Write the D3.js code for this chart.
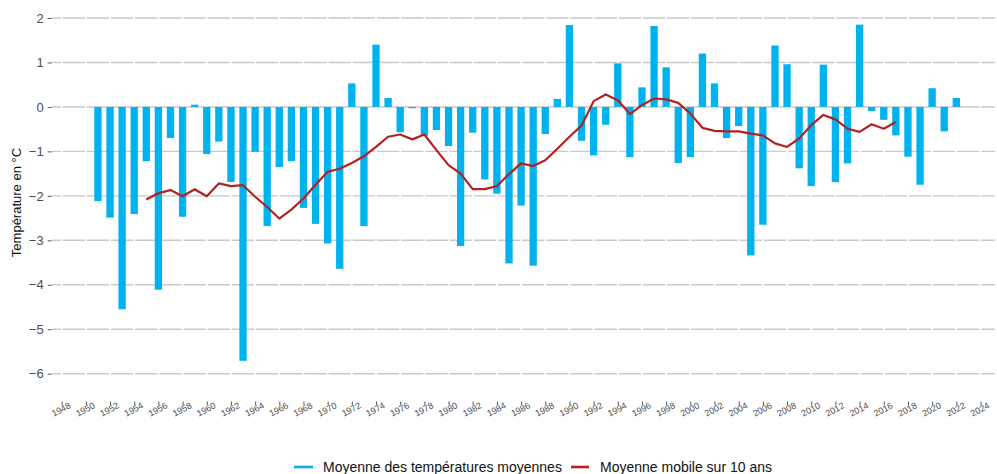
<!DOCTYPE html>
<html lang="fr">
<head>
<meta charset="utf-8">
<script src="https://cdn.jsdelivr.net/npm/d3@7"></script>
<style>
  html, body { margin: 0; padding: 0; background: #fff; }
  svg { display: block; font-family: "Liberation Sans", Arial, Helvetica, sans-serif; }
</style>
</head>
<body>
<svg id="chart" width="997" height="474"></svg>
<script>
// Years with an annual value
const years = d3.range(1951, 2023);

// Mean temperature of each year (°C)
const temperatures = [
  -2.12, -2.49, -4.55, -2.41, -1.22, -4.11, -0.70, -2.47, 0.05, -1.06,
  -0.78, -1.69, -5.71, -1.01, -2.68, -1.35, -1.22, -2.27, -2.63, -3.07,
  -3.64, 0.53, -2.68, 1.40, 0.20, -0.57, -0.03, -0.65, -0.52, -0.88,
  -3.13, -0.58, -1.63, -1.95, -3.52, -2.22, -3.57, -0.61, 0.18, 1.84,
  -0.76, -1.09, -0.40, 0.98, -1.13, 0.44, 1.82, 0.89, -1.26, -1.13,
  1.20, 0.53, -0.70, -0.43, -3.34, -2.65, 1.38, 0.96, -1.38, -1.78,
  0.95, -1.69, -1.27, 1.85, -0.09, -0.29, -0.64, -1.12, -1.75, 0.42,
  -0.55, 0.20
];

// Years covered by the 10-year moving average
const movingYears = d3.range(1955, 2018);

// 10-year moving average (°C)
const movingAverage = [
  -2.08, -1.94, -1.87, -2.01, -1.85, -2.01, -1.72, -1.78, -1.76, -2.02,
  -2.25, -2.51, -2.31, -2.06, -1.75, -1.46, -1.39, -1.26, -1.11, -0.90,
  -0.67, -0.62, -0.73, -0.62, -0.97, -1.31, -1.50, -1.85, -1.85, -1.78,
  -1.51, -1.27, -1.33, -1.20, -0.94, -0.67, -0.42, 0.13, 0.28, 0.15,
  -0.16, 0.04, 0.19, 0.17, 0.09, -0.15, -0.47, -0.54, -0.55, -0.55,
  -0.60, -0.64, -0.82, -0.90, -0.71, -0.41, -0.18, -0.28, -0.49, -0.56,
  -0.39, -0.49, -0.34
];

// Axis ticks
const xTicks = d3.range(1948, 2025, 2);
const yTicks = [-6, -5, -4, -3, -2, -1, 0, 1, 2];

// Labels
const yTitle = "Température en °C";
const legendLabels = ["Moyenne des températures moyennes", "Moyenne mobile sur 10 ans"];

const barColor = "#00b2ee";
const lineColor = "#b22222";

const svg = d3.select("#chart");

const x = d3.scaleLinear().domain([1947.2, 2025.2]).range([52, 995]);
const y = d3.scaleLinear().domain([-6, 2]).range([373.7, 18]);

// Horizontal grid
const grid = svg.append("g");
grid.selectAll("line.h")
  .data(yTicks)
  .join("line")
  .attr("x1", 52).attr("x2", 995)
  .attr("y1", d => y(d)).attr("y2", d => y(d))
  .attr("stroke", "#c9c9c9")
  .attr("stroke-width", 1.4);

// Small breaks in the grid at each year tick
grid.selectAll("line.v")
  .data(xTicks)
  .join("line")
  .attr("x1", d => x(d)).attr("x2", d => x(d))
  .attr("y1", 10).attr("y2", 385)
  .attr("stroke", "#fff")
  .attr("stroke-width", 1.8);

// Y axis
const yAxis = svg.append("g")
  .attr("transform", "translate(51.7,0)")
  .call(d3.axisLeft(y).tickValues(yTicks).tickSize(4).tickPadding(4).tickFormat(d3.format("d")));
yAxis.select(".domain").remove();
yAxis.selectAll(".tick line").attr("stroke", "#555").attr("stroke-width", 1);
yAxis.selectAll(".tick text")
  .attr("fill", "#4d4d4d")
  .style("font-size", "13px")
  .style("font-family", "'Liberation Sans', Arial, sans-serif");

svg.append("text")
  .attr("transform", "translate(21," + y(-2.15) + ") rotate(-90)")
  .attr("text-anchor", "middle")
  .attr("fill", "#111")
  .style("font-size", "13px")
  .text(yTitle);

// X axis
const xAxis = svg.append("g")
  .attr("transform", "translate(0,401.5)")
  .call(d3.axisBottom(x).tickValues(xTicks).tickSize(3.5).tickFormat(d3.format("d")));
xAxis.select(".domain").remove();
xAxis.selectAll(".tick line").attr("stroke", "#555").attr("stroke-width", 1);
xAxis.selectAll(".tick text")
  .attr("y", 0).attr("dy", 0)
  .attr("transform", "translate(-1,8) rotate(-28)")
  .attr("text-anchor", "middle")
  .attr("dominant-baseline", "central")
  .attr("fill", "#4d4d4d")
  .style("font-size", "9px")
  .style("font-family", "'Liberation Sans', Arial, sans-serif");

// Bars
const barW = 7.3;
svg.append("g")
  .selectAll("rect")
  .data(years.map((yr, i) => ({ yr, v: temperatures[i] })))
  .join("rect")
  .attr("x", d => x(d.yr) - barW / 2)
  .attr("width", barW)
  .attr("y", d => y(Math.max(0, d.v)))
  .attr("height", d => Math.abs(y(d.v) - y(0)))
  .attr("fill", barColor);

// Moving average line
const line = d3.line()
  .x((d, i) => x(movingYears[i]))
  .y(d => y(d));
svg.append("path")
  .datum(movingAverage)
  .attr("d", line)
  .attr("fill", "none")
  .attr("stroke", lineColor)
  .attr("stroke-width", 2.2)
  .attr("stroke-linejoin", "round");

// Legend
const legend = svg.append("g").style("font-size", "14px");
const legendItems = [
  { label: legendLabels[0], color: barColor, x1: 294, x2: 313, tx: 323 },
  { label: legendLabels[1], color: lineColor, x1: 571, x2: 589, tx: 600 }
];
legendItems.forEach(it => {
  legend.append("line")
    .attr("x1", it.x1).attr("x2", it.x2)
    .attr("y1", 467).attr("y2", 467)
    .attr("stroke", it.color)
    .attr("stroke-width", 2.6);
  legend.append("text")
    .attr("x", it.tx).attr("y", 471.5)
    .attr("fill", "#111")
    .text(it.label);
});
</script>
</body>
</html>
